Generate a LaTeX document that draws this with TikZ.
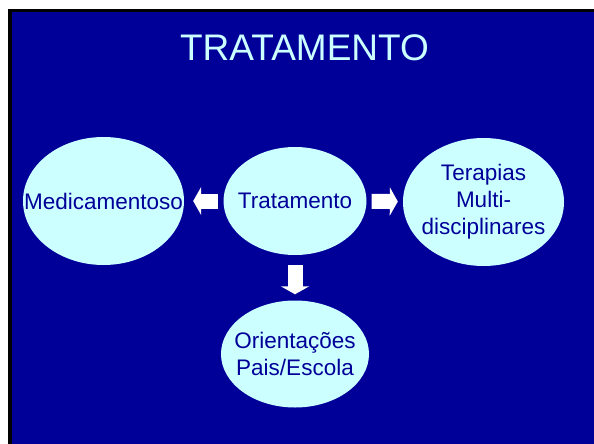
\documentclass[tikz,border=0pt]{standalone}
\usepackage{fontspec}
\setmainfont{Liberation Sans}
\usetikzlibrary{shapes.geometric,arrows.meta}
\definecolor{slideblue}{RGB}{0,0,153}
\definecolor{palecyan}{RGB}{204,255,255}

\begin{document}
\begin{tikzpicture}
    [   x=1pt,y=-1pt,
        enode/.style={ellipse,fill=palecyan,inner sep=0pt},
        every label/.style={text=slideblue,align=center,font=\fontsize{22.5}{27}\selectfont},
        barrow/.style={draw=white,line width=15pt,-{Triangle[width=28pt,length=8pt]}},
    ]
        \useasboundingbox (0,0) rectangle (594,444);
        % draw the slide
        \fill[black] (8,9) rectangle (594,444);
        \fill[slideblue] (12,12) rectangle (594,444);
        \node[text=palecyan,font=\fontsize{37}{40}\selectfont] (title) at (304.5,48) {TRATAMENTO};

        % draw the nodes
        \node[enode,minimum width=143pt,minimum height=108pt,label=center:Tratamento] (trat) at (295,201) {};
        \node[enode,minimum width=161pt,minimum height=128pt,label=center:Medicamentoso] (med) at (103.5,201) {};
        \node[enode,minimum width=161pt,minimum height=128pt,label={center:Terapias\\Multi-\\disciplinares}] (ter) at (483.5,202) {};
        \node[enode,minimum width=148pt,minimum height=107pt,label={center:Orientações\\Pais/Escola}] (ori) at (295,354) {};

        % draw the arrows
        \draw[barrow,shorten <=5pt,shorten >=9pt] (trat) -- (med);
        \draw[barrow,shorten <=5pt,shorten >=5pt] (trat) -- (ter);
        \draw[barrow,shorten <=10pt,shorten >=6pt] (trat) -- (ori);
    \end{tikzpicture}
\end{document}
